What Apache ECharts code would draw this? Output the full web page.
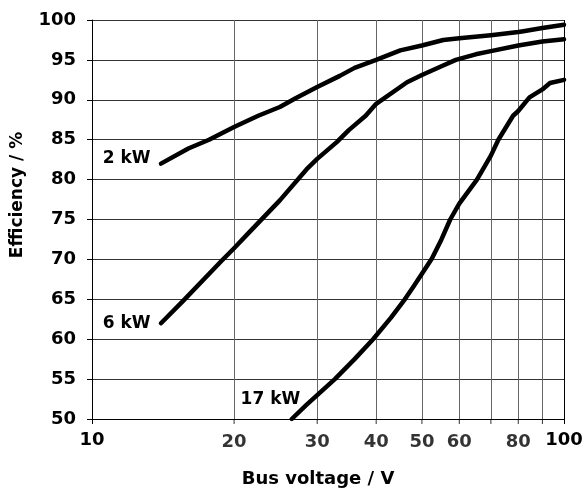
<!DOCTYPE html>
<html>
<head>
<meta charset="utf-8">
<script src="https://cdn.jsdelivr.net/npm/echarts@6/dist/echarts.min.js"></script>
<style>html,body{margin:0;padding:0;background:#fff}#c{width:586px;height:492px}</style>
</head>
<body>
<div id="c"></div>
<script>
// Bus voltage (V) and efficiency (%) per load
const voltage2kW = [14, 16, 17.7, 20, 22.5, 25, 27, 30, 33.5, 36, 40, 45, 50, 55.5, 60, 70, 80, 82, 90, 100];
const eff2kW     = [82, 83.9, 85, 86.6, 88, 89.1, 90.2, 91.6, 93, 94, 95, 96.2, 96.8, 97.5, 97.7, 98.1, 98.5, 98.6, 99, 99.4];
const voltage6kW = [14, 15.6, 18.8, 20, 21.3, 25, 28.5, 30, 33, 35, 38, 40, 46.5, 50, 55, 59, 65, 70, 80, 90, 100];
const eff6kW     = [62, 64.8, 69.8, 71.4, 73.1, 77.4, 81.3, 82.6, 84.7, 86.2, 88, 89.5, 92.2, 93.1, 94.2, 95.0, 95.7, 96.1, 96.8, 97.3, 97.6];
const voltage17kW = [26.5, 28.5, 30, 32.7, 36, 39.4, 43, 46, 48, 50, 52.5, 55, 57.4, 60, 65.4, 70, 72.6, 78, 80, 84.5, 90, 93.4, 100];
const eff17kW     = [50, 51.8, 53.0, 55, 57.5, 60, 62.7, 65, 66.6, 68.2, 70.1, 72.5, 75, 77, 80, 83, 85, 88, 88.6, 90.3, 91.3, 92.1, 92.5];
const seriesNames = ['2 kW', '6 kW', '17 kW'];
const labelIndex = [0, 0, 1];
const gridVoltages = [20, 30, 40, 50, 60, 70, 80, 90];
const labeledVoltages = [20, 30, 40, 50, 60, 80];
const xAxisTitle = 'Bus voltage / V';
const yAxisTitle = 'Efficiency / %';

const FONT = 'DejaVu Sans';
const chart = echarts.init(document.getElementById('c'), null, {renderer: 'canvas'});

const allX = [voltage2kW, voltage6kW, voltage17kW];
const allY = [eff2kW, eff6kW, eff17kW];
const lblOpts = [{distance: 10, offset: [0, -5]}, {distance: 10, offset: [0, 0]}, {distance: 6, offset: [0, -5]}];

const lineSeries = seriesNames.map((n, k) => ({
  type: 'line', name: n, data: allX[k].map((x, i) => [x, allY[k][i]]),
  showSymbol: false, symbol: 'none', smooth: false, clip: true,
  lineStyle: {color: '#000', width: 4.5, cap: 'round', join: 'round'},
  z: 5, silent: true
}));

const curveLabels = {
  type: 'scatter', silent: true, z: 6, clip: false, symbolSize: 1,
  itemStyle: {opacity: 0},
  data: seriesNames.map((n, k) => ({
    value: [allX[k][labelIndex[k]], allY[k][labelIndex[k]]],
    label: Object.assign({
      show: true, position: 'left', formatter: n, opacity: 1,
      fontFamily: FONT, fontWeight: 'bold', fontSize: 17, color: '#000', textBorderWidth: 0
    }, lblOpts[k])
  }))
};

const gridLines = {
  type: 'line', data: [], silent: true, z: 1,
  markLine: {
    silent: true, symbol: 'none', animation: false,
    lineStyle: {color: '#666', width: 1, type: 'solid'},
    label: {show: false},
    data: gridVoltages.map(v => ({xAxis: v}))
  }
};

const xMinorTicks = {
  type: 'scatter', silent: true, z: 2, clip: false,
  symbol: 'rect', symbolSize: [1, 5], symbolOffset: [0, 2.5],
  itemStyle: {color: '#000'},
  data: gridVoltages.map(v => ({
    value: [v, 50],
    label: {
      show: labeledVoltages.indexOf(v) >= 0, position: 'bottom', distance: 9,
      formatter: String(v), fontFamily: FONT, fontWeight: 'bold', fontSize: 18, color: '#000'
    }
  }))
};

chart.setOption({
  animation: false,
  backgroundColor: '#fff',
  grid: {left: 92, right: 22, top: 20, bottom: 73, containLabel: false},
  xAxis: {
    type: 'log', logBase: 10, min: 10, max: 100,
    axisLine: {show: true, lineStyle: {color: '#000', width: 1}},
    axisTick: {show: true, inside: false, length: 5, lineStyle: {color: '#000'}},
    axisLabel: {margin: 12, fontFamily: FONT, fontWeight: 'bold', fontSize: 18, color: '#000'},
    splitLine: {show: true, lineStyle: {color: '#000', width: 1}},
    minorTick: {show: false}
  },
  yAxis: {
    type: 'value', min: 50, max: 100, interval: 5,
    axisLine: {show: true, lineStyle: {color: '#000', width: 1}},
    axisTick: {show: true, inside: false, length: 5, lineStyle: {color: '#000'}},
    axisLabel: {margin: 16, fontFamily: FONT, fontWeight: 'bold', fontSize: 18, color: '#000'},
    splitLine: {show: true, lineStyle: {color: '#333', width: 1}}
  },
  graphic: [
    {type: 'text', x: 18, y: 195, rotation: Math.PI / 2,
     style: {text: yAxisTitle, fontFamily: FONT, fontWeight: 'bold', fontSize: 17, fill: '#000', align: 'center', verticalAlign: 'middle'}},
    {type: 'text', x: 318, y: 479,
     style: {text: xAxisTitle, fontFamily: FONT, fontWeight: 'bold', fontSize: 18, fill: '#000', align: 'center', verticalAlign: 'middle'}}
  ],
  series: [gridLines, xMinorTicks].concat(lineSeries, [curveLabels])
});
</script>
</body>
</html>
